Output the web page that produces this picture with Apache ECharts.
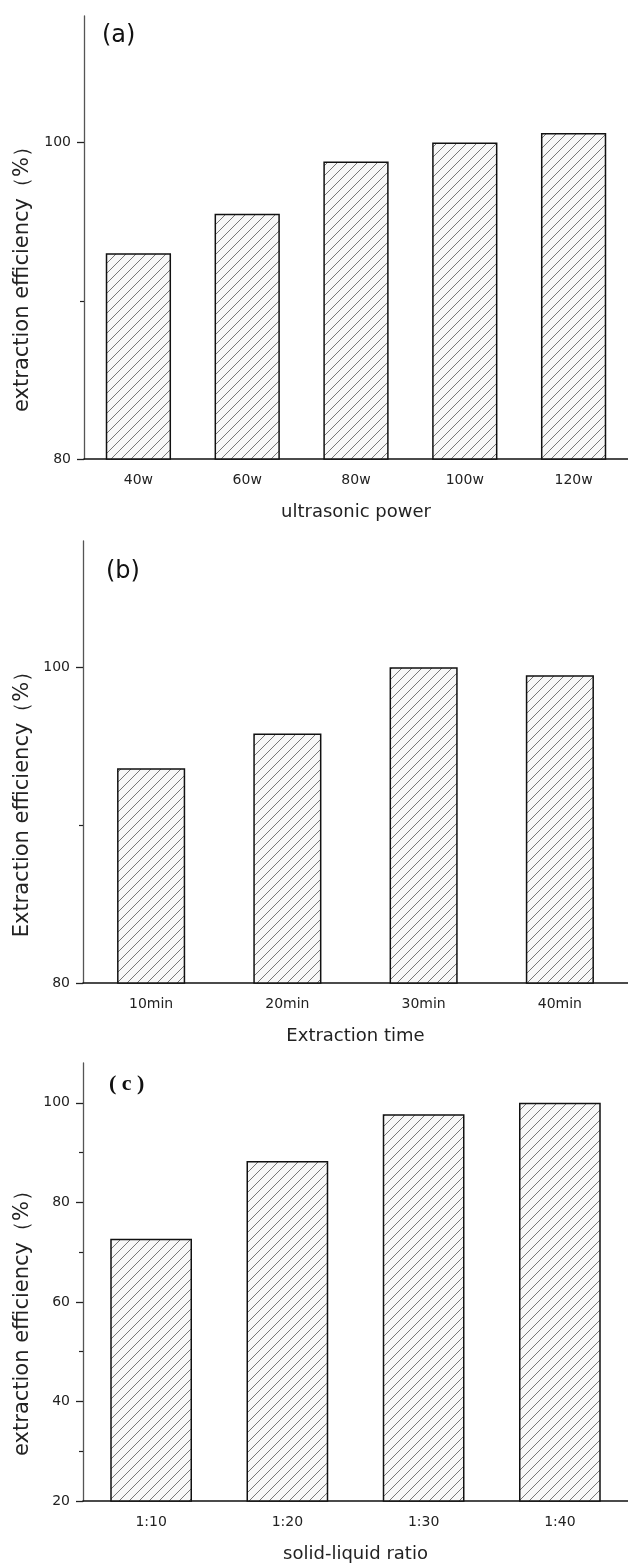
<!DOCTYPE html>
<html>
<head>
<meta charset="utf-8">
<script src="https://cdn.jsdelivr.net/npm/echarts@6/dist/echarts.min.js"></script>
<style>
  html, body { margin: 0; padding: 0; background: #fff; }
  #chart { width: 628px; height: 1564px; }
</style>
</head>
<body>
<div id="chart"></div>
<script>
// (a) ultrasonic power
var powerCats = ['40w', '60w', '80w', '100w', '120w']
var powerVals = [93.0, 95.5, 98.8, 100.0, 100.6]
// (b) extraction time
var timeCats = ['10min', '20min', '30min', '40min']
var timeVals = [93.6, 95.8, 100.0, 99.5]
// (c) solid-liquid ratio
var ratioCats = ['1:10', '1:20', '1:30', '1:40']
var ratioVals = [72.7, 88.3, 97.7, 100.0]

// y ticks
var yLabelsAB = [80, 100]
var yMinorAB = [90]
var yLabelsC = [20, 40, 60, 80, 100]
var yMinorC = [30, 50, 70, 90]

var FONT = 'DejaVu Sans, Verdana, sans-serif'

// diagonal hatch fill like the original figure
function hatch() {
  var s = 10
  var c = document.createElement('canvas')
  c.width = s
  c.height = s
  var ctx = c.getContext('2d')
  ctx.fillStyle = '#f7f7f7'
  ctx.fillRect(0, 0, s, s)
  ctx.strokeStyle = '#666'
  ctx.lineWidth = 0.9
  ctx.beginPath()
  ctx.moveTo(0, s); ctx.lineTo(s, 0)
  ctx.moveTo(-1, 1); ctx.lineTo(1, -1)
  ctx.moveTo(s - 1, s + 1); ctx.lineTo(s + 1, s - 1)
  ctx.stroke()
  return c
}
var pattern = { image: hatch(), repeat: 'repeat' }

function mainX(grid, cats, name) {
  return {
    type: 'category', gridIndex: grid, data: cats, position: 'bottom',
    name: name, nameLocation: 'middle', nameGap: 44,
    nameTextStyle: { fontFamily: FONT, fontSize: 18, color: '#222' },
    axisLine: { lineStyle: { color: '#111', width: 1.5 } },
    axisTick: { alignWithLabel: true, length: 8, lineStyle: { color: '#111', width: 1.3 } },
    axisLabel: { fontFamily: FONT, fontSize: 14, color: '#222', margin: 14 },
    splitLine: { show: false }
  }
}
function minorX(grid, cats) {
  return {
    type: 'category', gridIndex: grid, data: cats, position: 'bottom',
    axisLine: { show: false },
    axisTick: { length: 4, lineStyle: { color: '#111', width: 1.3 } },
    axisLabel: { show: false },
    splitLine: { show: false }
  }
}
function mainY(grid, min, labels) {
  return {
    type: 'value', gridIndex: grid, min: min, max: 108, position: 'left',
    axisLine: { show: true, lineStyle: { color: '#555', width: 1.3 } },
    axisTick: { show: true, length: 7, customValues: labels, lineStyle: { color: '#222', width: 1.3 } },
    axisLabel: { fontFamily: FONT, fontSize: 14, color: '#222', margin: 13, customValues: labels },
    splitLine: { show: false }
  }
}
function minorY(grid, min, ticks) {
  return {
    type: 'value', gridIndex: grid, min: min, max: 108, position: 'left',
    axisLine: { show: false },
    axisTick: { show: true, length: 4, customValues: ticks, lineStyle: { color: '#222', width: 1.2 } },
    axisLabel: { show: false },
    splitLine: { show: false }
  }
}
function bars(idx, vals, width) {
  return {
    type: 'bar', xAxisIndex: idx * 2, yAxisIndex: idx * 2,
    data: vals, barWidth: width,
    itemStyle: { color: pattern, borderColor: '#111', borderWidth: 1.5 },
    silent: true, animation: false
  }
}
function yName(text, cy) {
  return {
    type: 'text', x: 23, y: cy, rotation: Math.PI / 2,
    style: { text: text, font: '21px ' + FONT, fill: '#222', align: 'center', verticalAlign: 'middle' }
  }
}

var chart = echarts.init(document.getElementById('chart'))
chart.setOption({
  backgroundColor: '#fff',
  animation: false,
  grid: [
    { left: 84, top: 16, width: 547, height: 443 },
    { left: 83, top: 541, width: 550, height: 442 },
    { left: 83, top: 1063, width: 550, height: 441 }
  ],
  xAxis: [
    mainX(0, powerCats, 'ultrasonic power'), minorX(0, powerCats),
    mainX(1, timeCats, 'Extraction time'), minorX(1, timeCats),
    mainX(2, ratioCats, 'solid-liquid ratio'), minorX(2, ratioCats)
  ],
  yAxis: [
    mainY(0, 80, yLabelsAB), minorY(0, 80, yMinorAB),
    mainY(1, 80, yLabelsAB), minorY(1, 80, yMinorAB),
    mainY(2, 20, yLabelsC), minorY(2, 20, yMinorC)
  ],
  series: [
    bars(0, powerVals, '60%'),
    bars(1, timeVals, '50%'),
    bars(2, ratioVals, '60%')
  ],
  graphic: [
    yName('extraction efficiency（%）', 274),
    yName('Extraction efficiency（%）', 799),
    yName('extraction efficiency（%）', 1318),
    { type: 'text', left: 102, top: 24, style: { text: '(a)', font: '24px ' + FONT, fill: '#111' } },
    { type: 'text', left: 106, top: 560, style: { text: '(b)', font: '24px ' + FONT, fill: '#111' } },
    { type: 'text', left: 109, top: 1073, style: { text: '( c )', font: 'bold 22px Liberation Serif, serif', fill: '#111' } }
  ]
})
</script>
</body>
</html>
